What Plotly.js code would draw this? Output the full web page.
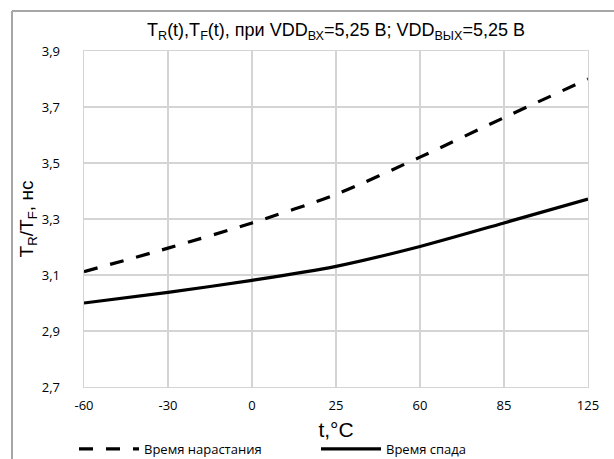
<!DOCTYPE html>
<html><head><meta charset="utf-8">
<script src="https://cdn.plot.ly/plotly-3.0.1.min.js"></script>
<style>html,body{margin:0;padding:0;background:#fff}</style>
</head><body><div id="chart" style="width:614px;height:459px"></div>
<script>
const temps = ['-60','-30','0','25','60','85','125'];
const riseTime = [3.112, 3.196, 3.286, 3.388, 3.521, 3.662, 3.800];
const fallTime = [3.000, 3.038, 3.081, 3.131, 3.202, 3.286, 3.371];
const yTicks = [2.7, 2.9, 3.1, 3.3, 3.5, 3.7, 3.9];
const riseName = 'Время нарастания';
const fallName = 'Время спада';

const traces = [
  {x: temps, y: riseTime, name: riseName, type: 'scatter', mode: 'lines',
   line: {color: '#000', width: 3.2, dash: '14px,13px', shape: 'spline', smoothing: 0.8}},
  {x: temps, y: fallTime, name: fallName, type: 'scatter', mode: 'lines',
   line: {color: '#000', width: 3.2, shape: 'spline', smoothing: 0.8}}
];
const L = 84, R = 588, T = 51, B = 387;
const px = v => (v - L) / (R - L);
const py = v => (B - v) / (B - T);
const gridCol = '#d4d4d4';
const layout = {
  width: 614, height: 459,
  margin: {l: L, r: 614 - R, t: T, b: 459 - B, autoexpand: false},
  paper_bgcolor: '#fff', plot_bgcolor: '#fff',
  separators: ',.',
  font: {family: 'Liberation Sans, Arial, sans-serif', color: '#000'},
  title: {text: 'T<sub>R</sub>(t),T<sub>F</sub>(t), при VDD<sub>ВХ</sub>=5,25 В; VDD<sub>ВЫХ</sub>=5,25 В',
          font: {size: 18, family: 'Liberation Sans, Arial, sans-serif', color: '#000'},
          x: 0.5 * (L + R) / 614, xanchor: 'center', y: 1 - 30 / 459, yanchor: 'middle'},
  xaxis: {type: 'category', range: [0, 6], showgrid: true, gridcolor: gridCol, gridwidth: 1.4,
          showline: true, linecolor: gridCol, linewidth: 1.4, mirror: true, zeroline: false,
          ticks: 'outside', ticklen: 6, tickcolor: 'rgba(0,0,0,0)',
          tickfont: {size: 13, family: 'Open Sans, sans-serif', color: '#000'},
          title: {text: 't,°C', font: {size: 21, family: 'Liberation Sans, Arial, sans-serif'}, standoff: 9}},
  yaxis: {range: [2.7, 3.9], tickvals: yTicks, tickformat: '.1f', showgrid: true, gridcolor: gridCol, gridwidth: 1.4,
          showline: true, linecolor: gridCol, linewidth: 1.4, mirror: true, zeroline: false,
          ticks: 'outside', ticklen: 20, tickcolor: 'rgba(0,0,0,0)',
          tickfont: {size: 13, family: 'Open Sans, sans-serif', color: '#000'},
          title: {text: 'T<sub>R</sub>/T<sub>F</sub>, нс', font: {size: 19, family: 'Liberation Sans, Arial, sans-serif'}, standoff: 3}},
  showlegend: true,
  legend: {orientation: 'h', x: px(74), y: py(434), xanchor: 'left', yanchor: 'top',
           entrywidth: 167, entrywidthmode: 'pixels', itemwidth: 60,
           font: {size: 13, family: 'Open Sans, sans-serif', color: '#000'}, bgcolor: 'rgba(0,0,0,0)'},
  shapes: [
    {type: 'line', xref: 'paper', yref: 'paper', x0: px(12), x1: px(12), y0: py(470), y1: py(11),
     line: {color: '#a6a6a6', width: 2}},
    {type: 'line', xref: 'paper', yref: 'paper', x0: px(12), x1: px(640), y0: py(11), y1: py(11),
     line: {color: '#a6a6a6', width: 2}}
  ]
};
Plotly.newPlot('chart', traces, layout, {staticPlot: true, displayModeBar: false});
</script></body></html>
